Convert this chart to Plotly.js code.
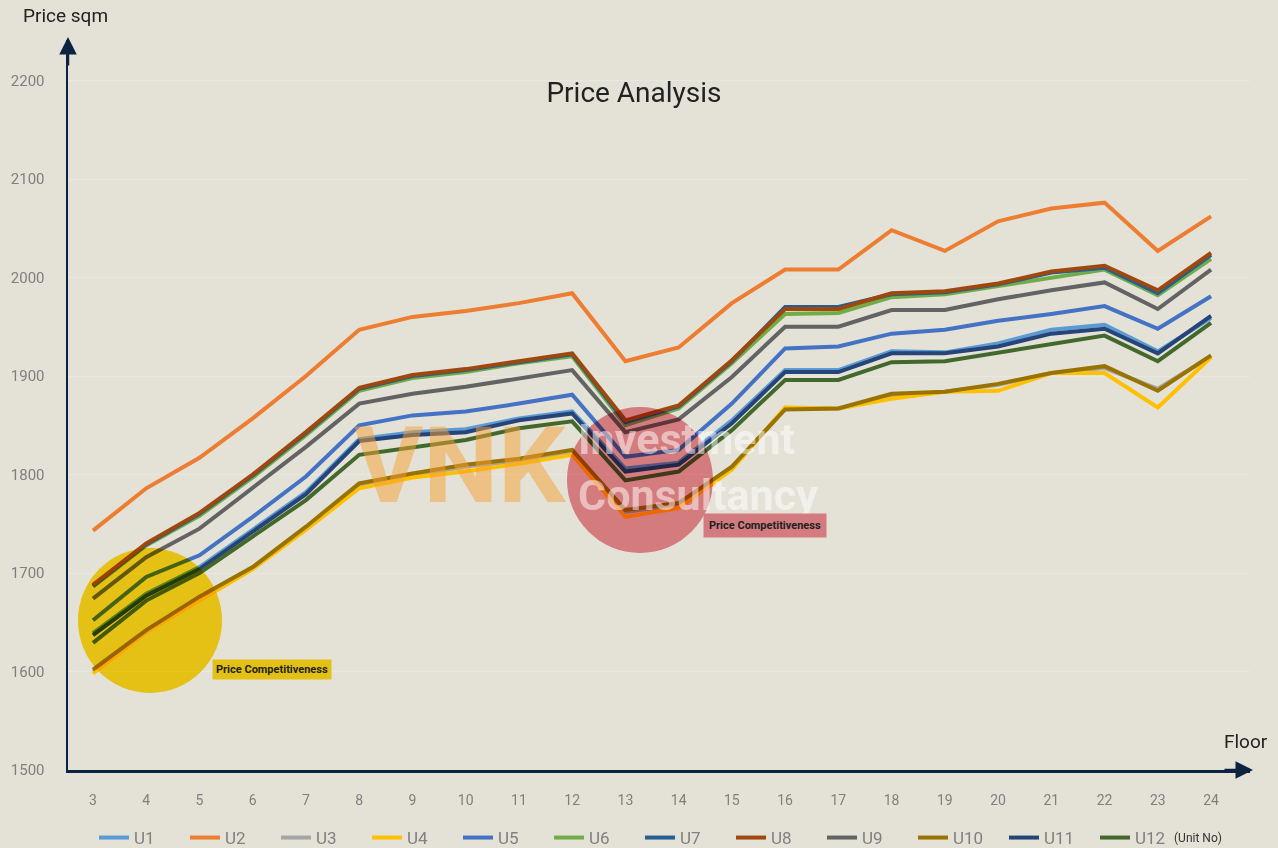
<!DOCTYPE html>
<html>
<head>
<meta charset="utf-8">
<script src="https://cdn.plot.ly/plotly-3.0.1.min.js"></script>
<style>
html,body{margin:0;padding:0;background:#e4e1d7;}
#chart{width:1278px;height:848px;}
</style>
</head>
<body>
<div id="chart"></div>
<script>
// ---- data ----
const floors = [3,4,5,6,7,8,9,10,11,12,13,14,15,16,17,18,19,20,21,22,23,24];
const seriesNames = ["U1","U2","U3","U4","U5","U6","U7","U8","U9","U10","U11","U12"];
const U1  = [1639,1679,1706,1744,1782,1836,1843,1846,1857,1864,1806,1812,1855,1906,1906,1925,1924,1933,1947,1952,1925,1959];
const U2  = [1743,1786,1817,1857,1900,1947,1960,1966,1974,1984,1915,1929,1974,2008,2008,2048,2027,2057,2070,2076,2027,2062];
const U3  = [1600,1641,1674,1705,1746,1789,1799,1808,1814,1823,1762,1769,1807,1867,1867,1880,1884,1891,1903,1908,1887,1920];
const U4  = [1598,1640,1672,1704,1744,1786,1797,1803,1811,1820,1757,1766,1805,1868,1867,1877,1884,1885,1903,1903,1868,1919];
const U5  = [1652,1696,1718,1757,1798,1850,1860,1864,1872,1881,1818,1825,1872,1928,1930,1943,1947,1956,1963,1971,1948,1981];
const U6  = [1686,1728,1758,1797,1840,1885,1898,1904,1913,1920,1850,1867,1913,1963,1964,1980,1983,1991,2000,2008,1982,2019];
const U7  = [1687,1729,1760,1799,1842,1887,1900,1906,1914,1922,1853,1869,1915,1970,1970,1983,1985,1993,2005,2010,1984,2023];
const U8  = [1688,1730,1761,1800,1843,1888,1901,1907,1915,1923,1855,1870,1916,1968,1968,1984,1986,1994,2006,2012,1987,2025];
const U9  = [1674,1716,1745,1786,1828,1872,1882,1889,1898,1906,1843,1856,1899,1950,1950,1967,1967,1978,1987,1995,1968,2008];
const U10 = [1602,1642,1676,1706,1747,1791,1801,1810,1816,1825,1764,1771,1808,1866,1867,1882,1884,1892,1903,1910,1885,1921];
const U11 = [1637,1677,1704,1742,1780,1834,1840,1843,1855,1862,1803,1810,1852,1904,1904,1923,1923,1930,1943,1948,1923,1961];
const U12 = [1629,1672,1700,1737,1774,1820,1827,1835,1847,1854,1794,1803,1845,1896,1896,1914,1915,1924,1933,1941,1915,1954];
const seriesValues = [U1,U2,U3,U4,U5,U6,U7,U8,U9,U10,U11,U12];
const yTicks = [1500,1600,1700,1800,1900,2000,2100,2200];

// ---- style ----
const colors = ["#5B9BD5","#ED7D31","#A5A5A5","#FFC000","#4472C4","#70AD47",
                "#255E91","#9E480E","#636363","#997300","#264478","#43682B"];
const BG = "#e4e1d7";
const NAVY = "#0c2340";
const W = 1278, H = 848;
const M = {l:68, r:28, t:40, b:78, autoexpand:false};
const PW = W - M.l - M.r, PH = H - M.t - M.b;
const px = X => (X - M.l) / PW;
const py = Y => (H - M.b - Y) / PH;

const traces = seriesNames.map((n,i) => ({
  type: "scatter", mode: "lines", name: n,
  x: floors, y: seriesValues[i],
  line: {color: colors[i], width: 4},
  hoverinfo: "x+y+name"
}));

const shapes = [
  {type:"circle", xref:"paper", yref:"paper", layer:"above",
   x0:px(78), x1:px(222), y0:py(693), y1:py(548),
   fillcolor:"#ffdb17", line:{width:0}},
  {type:"circle", xref:"paper", yref:"paper", layer:"above",
   x0:px(567), x1:px(713), y0:py(553), y1:py(407),
   fillcolor:"#ed8b96", line:{width:0}}
];

const annotations = [
  // axis arrowheads
  {xref:"paper", yref:"paper", x:0, y:py(37), ax:0, ay:30, text:"", showarrow:true,
   arrowhead:2, arrowsize:1.4, arrowwidth:2.5, arrowcolor:NAVY, standoff:0},
  {xref:"paper", yref:"paper", x:px(1253), y:0, ax:-30, ay:0, text:"", showarrow:true,
   arrowhead:2, arrowsize:1.4, arrowwidth:2.5, arrowcolor:NAVY, standoff:0},
  // axis names
  {xref:"paper", yref:"paper", x:px(21), y:py(16), xanchor:"left", yanchor:"middle",
   text:"Price sqm", showarrow:false, font:{family:"Roboto", size:19, color:"#222"}},
  {xref:"paper", yref:"paper", x:px(1270), y:py(741), xanchor:"right", yanchor:"middle",
   text:"Floor", showarrow:false, font:{family:"Roboto", size:19, color:"#222"}},
  // watermark
  {xref:"paper", yref:"paper", x:px(460), y:py(466), xanchor:"center", yanchor:"middle",
   text:"<b>VNK</b>", showarrow:false, font:{family:"Roboto", size:106, color:"rgba(245,160,50,0.5)"}},
  {xref:"paper", yref:"paper", x:px(576), y:py(467), xanchor:"left", yanchor:"middle", align:"left",
   text:"<b>Investment<br>Consultancy</b>", showarrow:false,
   font:{family:"Roboto", size:43, color:"rgba(255,255,255,0.5)"}},
  // labels
  {xref:"paper", yref:"paper", x:px(271.5), y:py(669), xanchor:"center", yanchor:"middle",
   text:"<b>Price Competitiveness</b>", showarrow:false, bgcolor:"#e3c114", borderpad:3,
   font:{family:"Roboto", size:11, color:"#222"}},
  {xref:"paper", yref:"paper", x:px(764.5), y:py(525), xanchor:"center", yanchor:"middle",
   text:"<b>Price Competitiveness</b>", showarrow:false, bgcolor:"#d37b7f", borderpad:5,
   font:{family:"Roboto", size:11, color:"#222"}},
  {xref:"paper", yref:"paper", x:px(1172), y:py(838), xanchor:"left", yanchor:"middle",
   text:"(Unit No)", showarrow:false, font:{family:"Roboto", size:12, color:"#333"}}
];

const layout = {
  width: W, height: H,
  paper_bgcolor: BG, plot_bgcolor: BG,
  margin: M,
  title: {text:"Price Analysis", xref:"container", yref:"container", x:634/W, y:1-92/H,
          xanchor:"center", yanchor:"middle", font:{family:"Roboto", size:28, color:"#222"}},
  xaxis: {
    range:[3 - 25/53.24, 3 - 25/53.24 + PW/53.24], tickmode:"array", tickvals:floors,
    ticktext: floors.map(String), showgrid:false, zeroline:false,
    showline:true, linecolor:NAVY, linewidth:2.5,
    ticks:"outside", ticklen:16, tickcolor:"rgba(0,0,0,0)",
    tickfont:{family:"Roboto", size:14, color:"#7f7f7f"}, fixedrange:true
  },
  yaxis: {
    range:[1500, 1500 + PH/0.985], tickmode:"array", tickvals:yTicks,
    ticktext: yTicks.map(String), showgrid:true, gridcolor:"#e9e7e0", gridwidth:1,
    zeroline:false, showline:true, linecolor:NAVY, linewidth:2.5,
    ticks:"outside", ticklen:18, tickcolor:"rgba(0,0,0,0)",
    tickfont:{family:"Roboto", size:15, color:"#7f7f7f"}, fixedrange:true
  },
  showlegend: true,
  legend: {orientation:"h", xref:"paper", yref:"paper", x:px(94), y:py(838),
           xanchor:"left", yanchor:"middle", itemgap:0,
           entrywidth:46, entrywidthmode:"pixels",
           font:{family:"Roboto", size:17, color:"#808080"}, bgcolor:"rgba(0,0,0,0)"},
  shapes: shapes,
  annotations: annotations
};

Plotly.newPlot("chart", traces, layout, {displayModeBar:false, staticPlot:true}).then(gd => {
  const paths = gd.querySelectorAll(".layer-above .shapelayer path");
  paths.forEach(p => { p.style.mixBlendMode = "multiply"; });
});
</script>
</body>
</html>
